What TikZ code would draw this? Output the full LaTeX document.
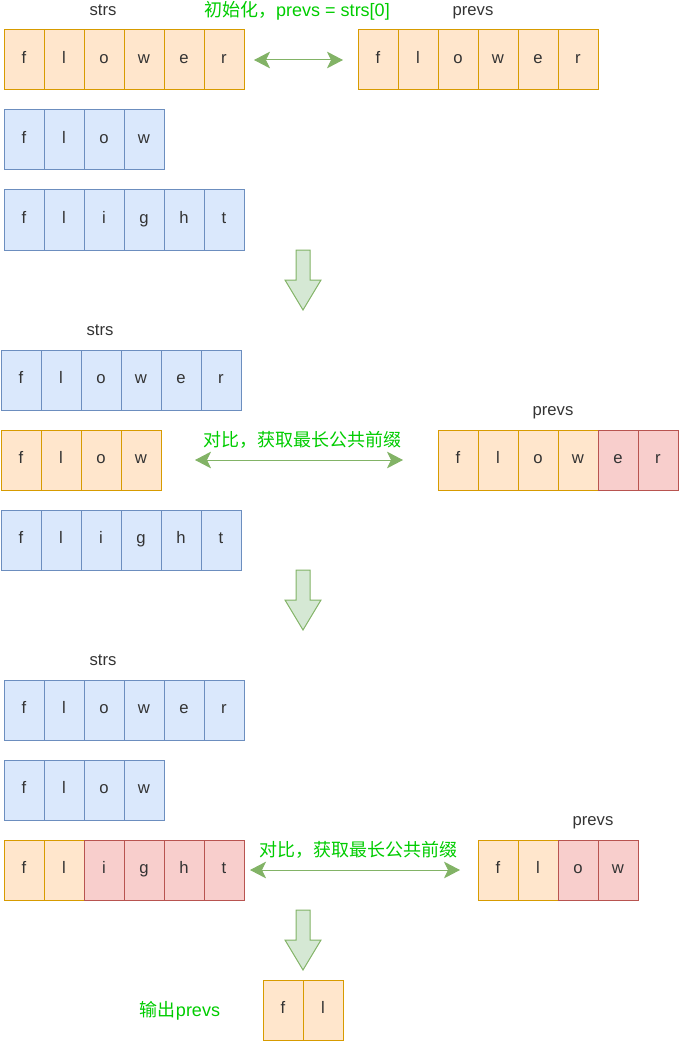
\documentclass[tikz,border=0pt]{standalone}
\usepackage{fontspec}
\setmainfont{Liberation Sans}
\newfontfamily\cjk{Noto Sans CJK SC}
\usepackage{tikz}
\usetikzlibrary{arrows.meta, positioning}
\definecolor{orgfill}{HTML}{FFE6CC}
\definecolor{orgline}{HTML}{D79B00}
\definecolor{blufill}{HTML}{DAE8FC}
\definecolor{bluline}{HTML}{6C8EBF}
\definecolor{redfill}{HTML}{F8CECC}
\definecolor{redline}{HTML}{B85450}
\definecolor{grnfill}{HTML}{D5E8D4}
\definecolor{grnline}{HTML}{82B366}
\definecolor{grntext}{HTML}{00CC00}
\definecolor{txtgray}{HTML}{333333}
\tikzset{
  cell/.style={rectangle, draw=#1line, fill=#1fill,
    minimum width=30pt, minimum height=45pt, inner sep=0pt, outer sep=0pt,
    text height=0.75em, text depth=0.25em,
    line width=0.75pt, font=\fontsize{12.5}{15}\selectfont, text=txtgray},
  lbl/.style={font=\fontsize{12.5}{15}\selectfont, text=txtgray,
    text height=0.75em, text depth=0.25em, yshift=-1.5pt},
  note/.style={font=\fontsize{13.5}{16}\selectfont, text=grntext,
    text height=0.8em, text depth=0.25em, yshift=-2.25pt},
  dblarrow/.style={{Stealth[length=12pt,width=12.5pt,inset=3pt]}-{Stealth[length=12pt,width=12.5pt,inset=3pt]},
    draw=grnline, line width=0.75pt},
  blockarrow/.style={draw=grnline, fill=grnfill, line width=0.75pt}
}
% one row of letter cells: name, left x, top y, list of colour/letter
\newcommand{\wordrow}[4]{%
  \foreach \st/\ch [count=\i] in {#4} {
    \node[cell=\st] (#1\i) at ({#2+40*\i-20},{#3+30}) {\ch};
  }}
% big down arrow: centre x, top y
\newcommand{\downblock}[2]{%
  \draw[blockarrow] (#1-7,#2) -- (#1+7,#2) -- (#1+7,#2+30) -- (#1+18,#2+30)
    -- (#1,#2+60) -- (#1-18,#2+30) -- (#1-7,#2+30) -- cycle;}

\begin{document}
\begin{tikzpicture}[x=0.75pt, y=-0.75pt]
  \useasboundingbox (0,0) rectangle (678,1041);

  % step 1: init
  \node[lbl] (strsA) at (103,10) {strs};
  \node[lbl] (prevsA) at (473,10) {prevs};
  \node[note] (initA) at (297,10) {{\cjk 初始化，}prevs = strs[0]};
  \wordrow{a}{4}{30}{org/f,org/l,org/o,org/w,org/e,org/r}
  \wordrow{p}{358}{30}{org/f,org/l,org/o,org/w,org/e,org/r}
  \wordrow{b}{4}{110}{blu/f,blu/l,blu/o,blu/w}
  \wordrow{c}{4}{190}{blu/f,blu/l,blu/i,blu/g,blu/h,blu/t}
  \draw[dblarrow] ([xshift=7.5pt]a6.east) -- ([xshift=-11.25pt]p1.west);
  \downblock{303}{250}

  % step 2: compare with flow
  \node[lbl] (strsB) at (100,330) {strs};
  \node[lbl] (prevsB) at (553,410) {prevs};
  \node[note] (cmpB) at (302,440) {\cjk 对比，获取最长公共前缀};
  \wordrow{d}{1}{350}{blu/f,blu/l,blu/o,blu/w,blu/e,blu/r}
  \wordrow{e}{1}{430}{org/f,org/l,org/o,org/w}
  \wordrow{f}{1}{510}{blu/f,blu/l,blu/i,blu/g,blu/h,blu/t}
  \wordrow{q}{438}{430}{org/f,org/l,org/o,org/w,red/e,red/r}
  \draw[dblarrow] ([xshift=25.5pt]e4.east) -- ([xshift=-26.25pt]q1.west);
  \downblock{303}{570}

  % step 3: compare with flight
  \node[lbl] (strsC) at (103,660) {strs};
  \node[lbl] (prevsC) at (593,820) {prevs};
  \node[note] (cmpC) at (358,850) {\cjk 对比，获取最长公共前缀};
  \wordrow{g}{4}{680}{blu/f,blu/l,blu/o,blu/w,blu/e,blu/r}
  \wordrow{h}{4}{760}{blu/f,blu/l,blu/o,blu/w}
  \wordrow{k}{4}{840}{org/f,org/l,red/i,red/g,red/h,red/t}
  \wordrow{s}{478}{840}{org/f,org/l,red/o,red/w}
  \draw[dblarrow] ([xshift=4.5pt]k6.east) -- ([xshift=-13.5pt]s1.west);
  \downblock{303}{910}

  % result
  \node[note] (outlbl) at (180,1010) {{\cjk 输出}prevs};
  \wordrow{out}{263}{980}{org/f,org/l}
\end{tikzpicture}
\end{document}
